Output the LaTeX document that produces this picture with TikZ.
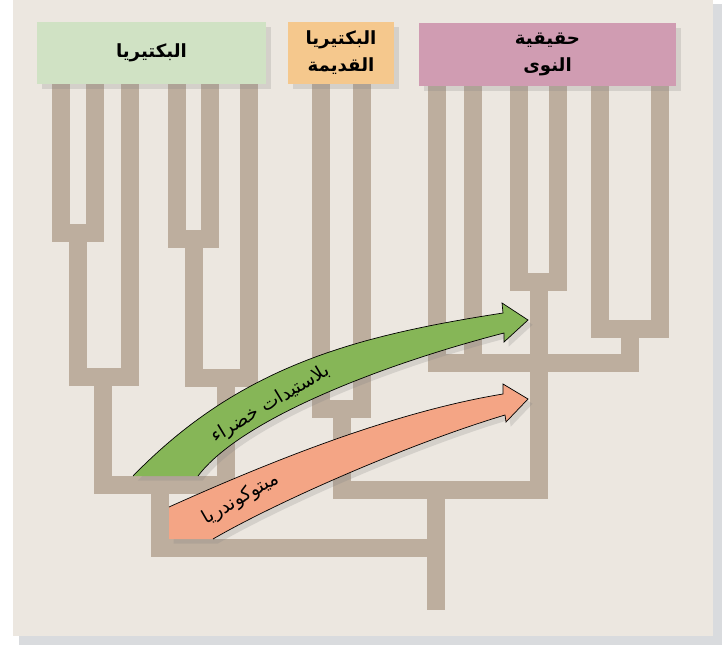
\documentclass[tikz,border=0pt]{standalone}
\usepackage{fontspec}
\newfontfamily\arabicfont[Script=Arabic]{DejaVu Sans}
\TeXXeTstate=1
\usetikzlibrary{shadows}

\definecolor{paper}{HTML}{ECE7E0}
\definecolor{papershade}{HTML}{D9DBDE}
\definecolor{branchcol}{HTML}{BDAE9E}
\definecolor{bactcol}{HTML}{D0E2C4}
\definecolor{archcol}{HTML}{F5C88D}
\definecolor{eukcol}{HTML}{D09CB2}
\definecolor{plastcol}{HTML}{86B657}
\definecolor{mitocol}{HTML}{F4A585}

\begin{document}
\begin{tikzpicture}[x=0.03cm,y=-0.03cm]
			\tikzstyle{branch} = [draw=branchcol,line width=0.54cm];
			\tikzstyle{taxonbox} = [rectangle,inner sep=0pt,align=center,font=\arabicfont\bfseries\fontsize{15.5}{23}\selectfont,drop shadow={opacity=0.22,shadow xshift=4pt,shadow yshift=-4pt}];
			\tikzstyle{transfer} = [drop shadow={opacity=0.22,shadow xshift=4pt,shadow yshift=-4pt}];
			\tikzstyle{arclabel} = [inner sep=1pt,font=\arabicfont\fontsize{16}{18}\selectfont];
			\useasboundingbox (0,0) rectangle (722,645);
			\fill[white] (0,0) rectangle (722,645);
			\fill[papershade] (19,4) rectangle (722,645);
			\fill[paper] (13,-2) rectangle (713,636);
			% bacteria
			\draw[branch] (61,80) -- (61,233) -- (95,233) -- (95,80);
			\draw[branch] (130,80) -- (130,377) -- (78,377) -- (78,233);
			\draw[branch] (177,80) -- (177,239) -- (209.5,239) -- (209.5,80);
			\draw[branch] (249,80) -- (249,378) -- (193.5,378) -- (193.5,239);
			\draw[branch] (102.5,377) -- (102.5,485) -- (226,485) -- (226,378);
			\draw[branch] (160,485) -- (160,548) -- (436,548);
			\draw[branch] (436,490) -- (436,610);
			% archaea and eukaryotes
			\draw[branch] (321,80) -- (321,409) -- (362,409) -- (362,80);
			\draw[branch] (342,409) -- (342,490) -- (538.5,490) -- (538.5,282);
			\draw[branch] (518.5,80) -- (518.5,282) -- (558,282) -- (558,80);
			\draw[branch] (436.5,80) -- (436.5,362.5) -- (629.5,362.5) -- (629.5,329);
			\draw[branch] (472.5,80) -- (472.5,362.5);
			\draw[branch] (600,80) -- (600,329) -- (659.5,329) -- (659.5,80);
			\node[taxonbox,fill=bactcol,minimum width=6.87cm,minimum height=1.86cm] (bact) at (151.5,53) {\beginR البكتيريا\endR};
			\node[taxonbox,fill=archcol,minimum width=3.18cm,minimum height=1.86cm] (arch) at (341,53) {\beginR البكتيريا\endR\\\beginR القديمة\endR};
			\node[taxonbox,fill=eukcol,minimum width=7.71cm,minimum height=1.89cm] (euk) at (547.5,54.5) {\beginR حقيقية\endR\\\beginR النوى\endR};
			% chloroplasts
			\fill[transfer,plastcol] (133,476) .. controls (240,366) and (355,336) .. (503,313) -- (502,303) -- (528,320) -- (504,342) -- (504,333) .. controls (380,365) and (240,420) .. (198,476) -- cycle;
			\draw[line width=0.6pt] (133,476) .. controls (240,366) and (355,336) .. (503,313) -- (502,303) -- (528,320) -- (504,342) -- (504,333) .. controls (380,365) and (240,420) .. (198,476);
			% mitochondria
			\fill[transfer,mitocol] (169,507) .. controls (269,462) and (393,412) .. (503,394) -- (503,384) -- (528,399) -- (506,422) -- (505,415) .. controls (405,445) and (273,504) .. (213,539) -- (169,539) -- cycle;
			\draw[line width=0.6pt] (169,507) .. controls (269,462) and (393,412) .. (503,394) -- (503,384) -- (528,399) -- (506,422) -- (505,415) .. controls (405,445) and (273,504) .. (213,539);
			\node[arclabel,rotate=31] (plast) at (271,404) {\beginR بلاستيدات خضراء\endR};
			\node[arclabel,rotate=30] (mito) at (241,499) {\beginR ميتوكوندريا\endR};
		\end{tikzpicture}
\end{document}
